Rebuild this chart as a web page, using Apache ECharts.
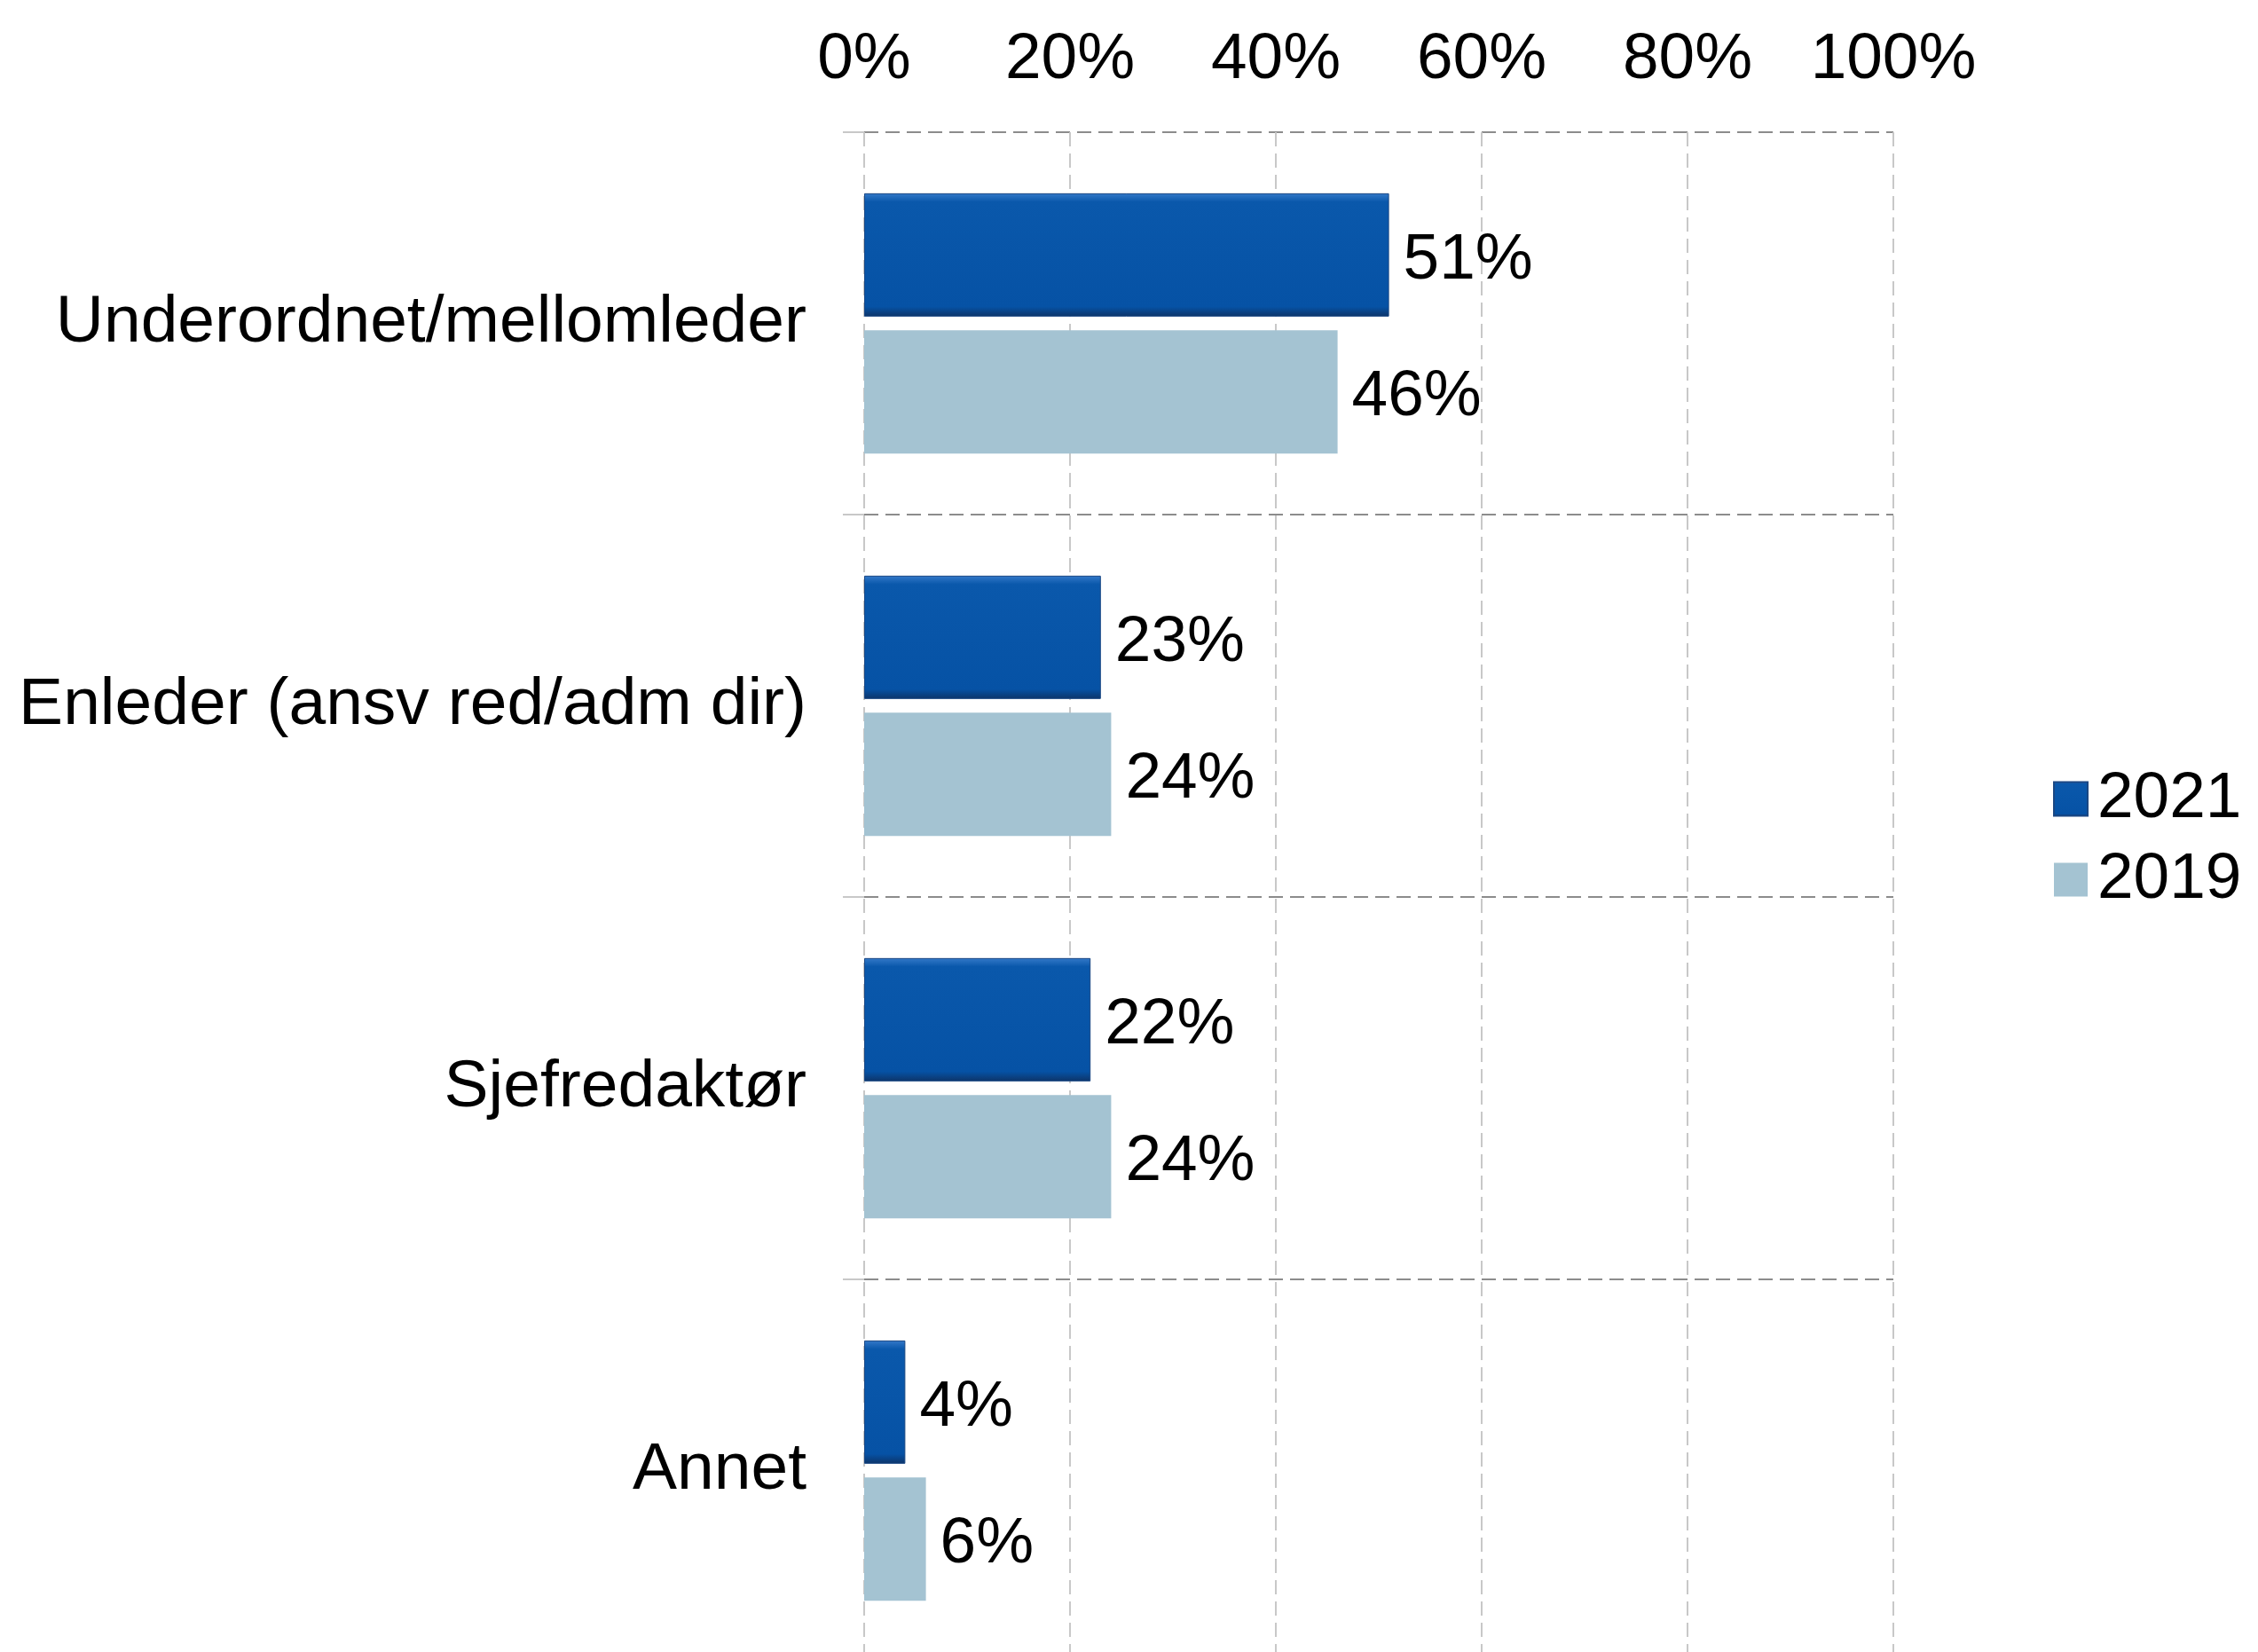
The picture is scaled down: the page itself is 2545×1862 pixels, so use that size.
<!DOCTYPE html>
<html>
<head>
<meta charset="utf-8">
<script src="https://cdn.jsdelivr.net/npm/echarts@6/dist/echarts.min.js"></script>
<style>
  html, body { margin: 0; padding: 0; background: #fff; overflow: hidden; }
  /* plot runs a little past the bottom edge, as in the original */
  #chart { width: 2545px; height: 1873px; }
</style>
</head>
<body>
<div id="chart"></div>
<script>
// data
const categories = ["Underordnet/mellomleder", "Enleder (ansv red/adm dir)", "Sjefredaktør", "Annet"];
const seriesNames = ["2021", "2019"];
const values2021 = [51, 23, 22, 4];
const values2019 = [46, 24, 24, 6];
const xTicks = [0, 20, 40, 60, 80, 100];

const font = "'Liberation Sans', Arial, sans-serif";

const bevelBlue = new echarts.graphic.LinearGradient(0, 0, 0, 1, [
  { offset: 0, color: "#3479c9" },
  { offset: 0.07, color: "#0a58ab" },
  { offset: 0.92, color: "#0652a5" },
  { offset: 1, color: "#0d3468" }
]);

const myChart = echarts.init(document.getElementById("chart"));
myChart.setOption({
  animation: false,
  textStyle: { fontFamily: font },
  grid: {
    left: 974,
    right: 411,
    top: 149,
    bottom: 0,
    containLabel: false
  },
  legend: {
    orient: "vertical",
    left: 2309,
    top: 859,
    icon: "rect",
    itemWidth: 38,
    itemHeight: 38,
    itemGap: 18,
    textStyle: { fontSize: 73, color: "#000", fontFamily: font, lineHeight: 60, padding: [0, 0, 0, 6] },
    data: seriesNames
  },
  xAxis: {
    type: "value",
    position: "top",
    min: xTicks[0],
    max: xTicks[xTicks.length - 1],
    interval: 20,
    axisLine: { show: false },
    axisTick: { show: false },
    axisLabel: {
      fontSize: 73,
      color: "#000",
      margin: 45,
      formatter: "{value}%"
    },
    splitLine: {
      show: true,
      lineStyle: { color: "#c8c8c8", width: 2, type: [16, 8] }
    }
  },
  yAxis: {
    type: "category",
    inverse: true,
    data: categories,
    axisLine: { show: false },
    axisTick: {
      show: true,
      length: 24,
      lineStyle: { color: "#c8c8c8", width: 2 }
    },
    axisLabel: {
      fontSize: 75,
      color: "#000",
      margin: 65,
      padding: [8, 0, 0, 0]
    },
    splitLine: {
      show: true,
      lineStyle: { color: "#8c8c8c", width: 2, type: [16, 8] }
    }
  },
  series: [
    {
      name: seriesNames[0],
      type: "bar",
      data: values2021,
      barWidth: 139,
      barGap: "11%",
      itemStyle: {
        color: bevelBlue,
        borderColor: "#1a4783",
        borderWidth: 1
      },
      label: {
        show: true,
        position: "right",
        distance: 16,
        offset: [0, 7],
        fontSize: 73,
        color: "#000",
        formatter: "{c}%"
      }
    },
    {
      name: seriesNames[1],
      type: "bar",
      data: values2019,
      barWidth: 139,
      barGap: "11%",
      itemStyle: { color: "#a4c3d2" },
      label: {
        show: true,
        position: "right",
        distance: 16,
        offset: [0, 6],
        fontSize: 73,
        color: "#000",
        formatter: "{c}%"
      }
    }
  ]
});
</script>
</body>
</html>
